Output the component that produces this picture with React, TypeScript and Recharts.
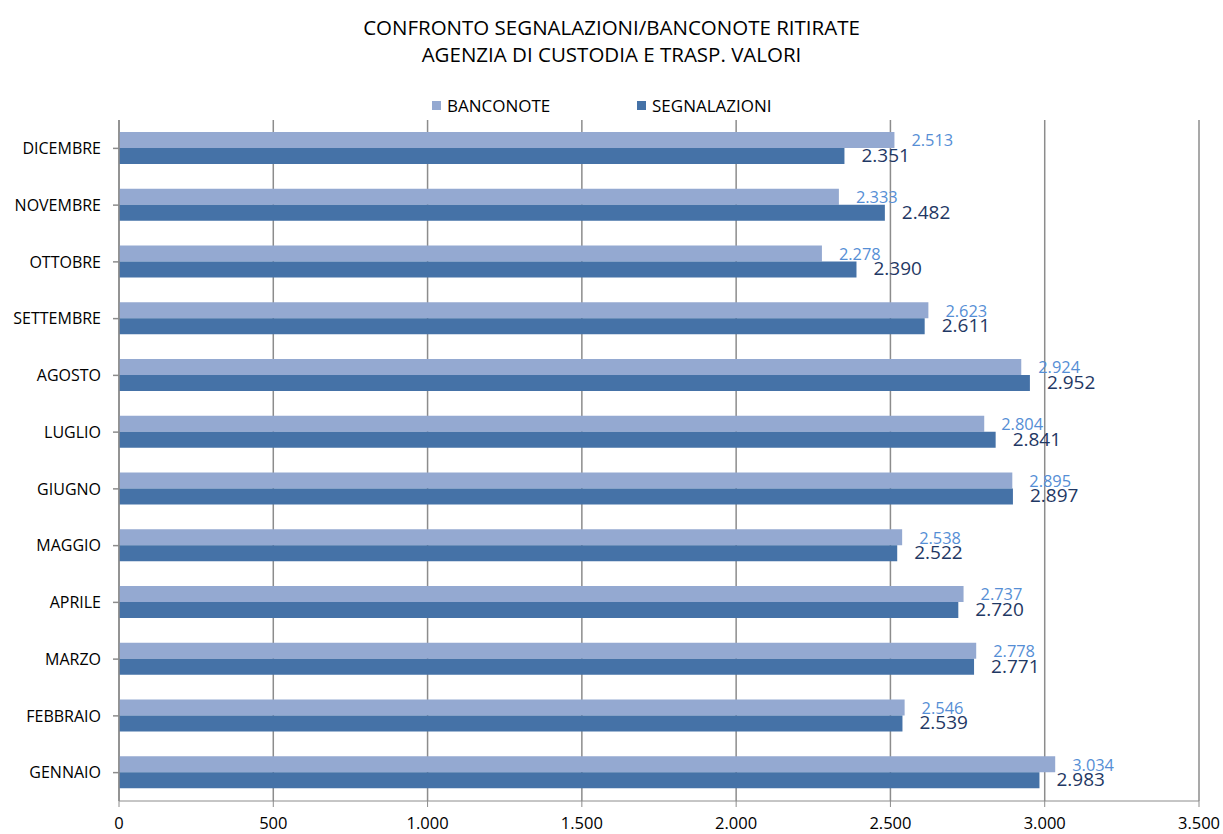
import * as React from "react";
import {
  Bar,
  BarChart,
  CartesianGrid,
  LabelList,
  Legend,
  XAxis,
  YAxis
} from "recharts";

const months = [
  "GENNAIO",
  "FEBBRAIO",
  "MARZO",
  "APRILE",
  "MAGGIO",
  "GIUGNO",
  "LUGLIO",
  "AGOSTO",
  "SETTEMBRE",
  "OTTOBRE",
  "NOVEMBRE",
  "DICEMBRE"
];
const banconote = [3034, 2546, 2778, 2737, 2538, 2895, 2804, 2924, 2623, 2278, 2333, 2513];
const segnalazioni = [2983, 2539, 2771, 2720, 2522, 2897, 2841, 2952, 2611, 2390, 2482, 2351];
const xTicks = [0, 500, 1000, 1500, 2000, 2500, 3000, 3500];

const FONT = "'Open Sans', 'Noto Sans', sans-serif";
const LIGHT = "#94A9D1";
const DARK = "#4572A7";

function fmt(n: number) {
  return String(Math.round(n)).replace(/\B(?=(\d{3})+(?!\d))/g, ".");
}

const data = months.map((m, i) => ({
  month: m,
  banconote: banconote[i],
  segnalazioni: segnalazioni[i]
}));

function makeLabel(color: string, size: number, dy: number) {
  return (props: any) => {
    const { x, y, width, height, value } = props;
    return (
      <text
        x={Number(x) + Number(width) + 17}
        y={Number(y) + Number(height) / 2 + dy}
        fill={color}
        fontSize={size}
        fontFamily={FONT}
        dominantBaseline="middle"
      >
        {fmt(value)}
      </text>
    );
  };
}

function LegendBox() {
  const item = (color: string, label: string, left: number) => (
    <div style={{ position: "absolute", left, top: 0, display: "flex", alignItems: "center", height: 20 }}>
      <span style={{ width: 9, height: 9, background: color, display: "inline-block", marginRight: 6 }} />
      <span style={{ fontSize: 17, color: "#000", fontFamily: FONT, whiteSpace: "nowrap" }}>{label}</span>
    </div>
  );
  return (
    <div style={{ position: "relative", width: 1223, height: 20 }}>
      {item(LIGHT, "BANCONOTE", 432)}
      {item(DARK, "SEGNALAZIONI", 637)}
    </div>
  );
}

export default function App() {
  return (
    <div style={{ position: "absolute", left: 0, top: 0, width: 1223, height: 834, background: "#fff" }}>
      <div
        style={{
          position: "absolute",
          left: 0,
          top: 14,
          width: 1223,
          textAlign: "center",
          fontFamily: FONT,
          fontSize: 20.5,
          lineHeight: "27px",
          color: "#000"
        }}
      >
        CONFRONTO SEGNALAZIONI/BANCONOTE RITIRATE
        <br />
        AGENZIA DI CUSTODIA E TRASP. VALORI
      </div>
      <BarChart
        width={1223}
        height={834}
        data={data}
        layout="vertical"
        margin={{ top: 100, right: 24, bottom: 6, left: 0 }}
        barCategoryGap="21%"
        barGap={0}
      >
        <CartesianGrid horizontal={false} stroke="#8c8c8c" strokeWidth={1.5} />
        <XAxis
          type="number"
          domain={[0, 3500]}
          ticks={xTicks}
          tickFormatter={fmt}
          height={27}
          tickSize={6}
          tickMargin={10}
          stroke="#8c8c8c"
          tick={{ fill: "#000", fontSize: 16.5, fontFamily: FONT }}
          interval={0}
        />
        <YAxis
          type="category"
          dataKey="month"
          reversed
          width={119}
          tickSize={6}
          tickMargin={12}
          stroke="#8c8c8c"
          strokeWidth={1.5}
          tick={{ fill: "#000", fontSize: 16, fontFamily: FONT }}
          interval={0}
        />
        <Legend
          verticalAlign="top"
          height={20}
          wrapperStyle={{ top: 95, left: 0 }}
          content={() => <LegendBox />}
        />
        <Bar dataKey="banconote" name="BANCONOTE" fill={LIGHT} isAnimationActive={false}>
          <LabelList dataKey="banconote" content={makeLabel("#558ED5", 16.4, 2)} />
        </Bar>
        <Bar dataKey="segnalazioni" name="SEGNALAZIONI" fill={DARK} isAnimationActive={false}>
          <LabelList dataKey="segnalazioni" content={makeLabel("#1F3864", 19, 1)} />
        </Bar>
      </BarChart>
    </div>
  );
}
